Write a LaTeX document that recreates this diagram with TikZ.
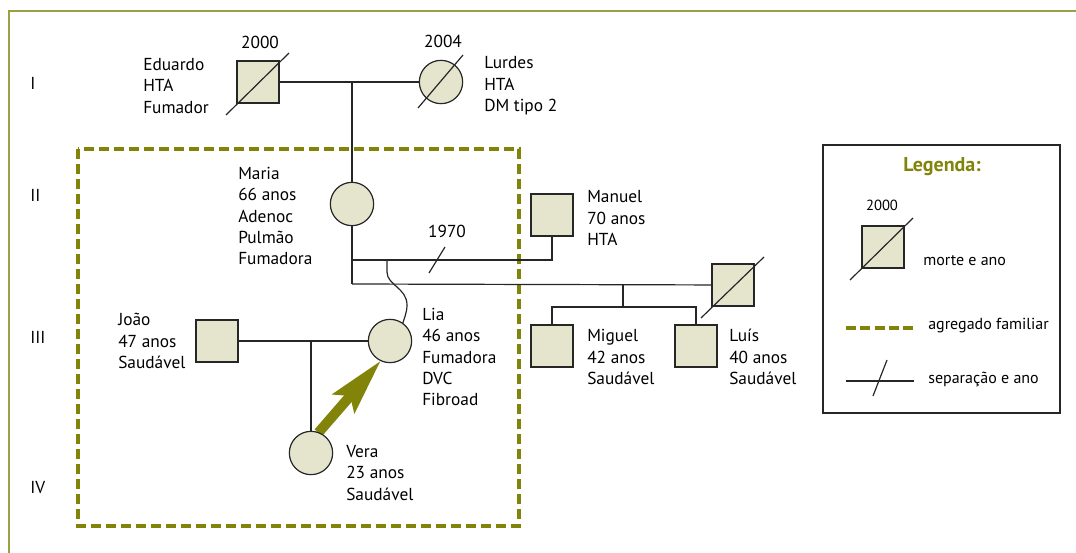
\documentclass[tikz,border=0pt]{standalone}
\usepackage{fontspec}
\setmainfont{PT Sans}
\usetikzlibrary{arrows.meta,backgrounds}
\definecolor{sym}{RGB}{229,229,206}
\definecolor{olv}{RGB}{130,132,10}
\definecolor{frm}{RGB}{155,160,70}
\begin{document}
\begin{tikzpicture}[x=0.75pt,y=-0.75pt,
  person/.style={draw=black!85, line width=0.9pt, fill=sym, inner sep=0pt, outer sep=0pt},
  male/.style={person, rectangle, minimum size=31.5pt},
  female/.style={person, circle, minimum size=32.5pt},
  ln/.style={line width=0.9pt, black!85},
  txt/.style={anchor=west, align=left, inner sep=0pt, font=\fontsize{13}{16.1}\selectfont},
  yr/.style={inner sep=0pt, font=\fontsize{13}{16}\selectfont},
  gen/.style={anchor=west, inner sep=0pt, font=\fontsize{13}{16}\selectfont},
  legtxt/.style={anchor=west, inner sep=0pt, font=\fontsize{12}{14}\selectfont},
  famline/.style={olv, line width=3pt},
  arrowbig/.style={olv, line width=7.5pt, -{Stealth[length=42pt,width=21pt,inset=7pt]}}
]
\useasboundingbox (0,0) rectangle (1076,553);
% outer frame (top and left)
\draw[frm, line width=1.5pt] (8.6,553) -- (8.6,11) -- (1076,11);

% generation labels
\node[gen] (gI) at (30,83) {I};
\node[gen] (gII) at (30,195) {II};
\node[gen] (gIII) at (30,337) {III};
\node[gen] (gIV) at (30,488) {IV};

% family household box
\draw[famline, dash pattern=on 7.5pt off 3.75pt] (78,149) rectangle (519,526);

% persons
\node[male] (edu) at (258,82) {};
\node[female] (lur) at (441,82) {};
\node[female] (mar) at (352,204) {};
\node[male] (man) at (552,215) {};
\node[male] (lfa) at (733,285) {};
\node[male] (mig) at (552,346) {};
\node[male] (lui) at (696,346) {};
\node[male] (joa) at (217,341) {};
\node[female] (lia) at (390,341) {};
\node[female] (ver) at (311,453) {};

% death marks
\draw[ln] ([shift={(-32,33)}]edu.center) -- ([shift={(31,-29)}]edu.center);
\draw[ln] ([shift={(-23,26)}]lur.center) -- ([shift={(22,-27)}]lur.center);
\draw[ln] ([shift={(-32,33)}]lfa.center) -- ([shift={(31,-28)}]lfa.center);

% year labels
\node[yr] (y2000) at (260,42) {2000};
\node[yr] (y2004) at (443,41) {2004};
\node[yr] (y1970) at (447,231) {1970};

% connectors
\coordinate (c1) at (352,82);
\coordinate (c2) at (352,260);
\coordinate (c3) at (352,284);
\coordinate (c4) at (623,284);
\coordinate (c5) at (623,307);
\coordinate (c6) at (552,307);
\coordinate (c7) at (696,307);
\coordinate (c8) at (387,260);
\coordinate (c9) at (311,341);
\coordinate (s1a) at (429,273);
\coordinate (s1b) at (445,247);

\draw[ln] (edu) -- (lur);
\draw[ln] (c1) -- (mar);
\draw[ln] (mar) -- (c3);
\draw[ln] (c2) -| (man);
\draw[ln] (s1a) -- (s1b);
\draw[ln] (c3) -- (lfa);
\draw[ln] (c4) -- (c5);
\draw[ln] (mig) -- (c6) -- (c7) -- (lui);
\draw[ln] (c8) -- ++(0,12) .. controls +(0,13) and +(0,-17) .. (407,305) .. controls +(0,8) and +(1,-4) .. (lia.54);
\draw[ln] (joa) -- (lia);
\draw[ln] (c9) -- (ver);

% emotional arrow
\begin{scope}[on background layer]
\draw[arrowbig] (ver.70) -- (lia.245);
\end{scope}

% texts
\node[txt] (teduardo) at (143,86) {Eduardo\\HTA\\Fumador};
\node[txt] (tlurdes) at (484,86) {Lurdes\\HTA\\DM tipo 2};
\node[txt] (tmaria) at (238,216) {Maria\\66 anos\\Adenoc\\Pulmão\\Fumadora};
\node[txt] (tmanuel) at (587,218) {Manuel\\70 anos\\HTA};
\node[txt] (tmiguel) at (587,357) {Miguel\\42 anos\\Saudável};
\node[txt] (tluis) at (729,357) {Luís\\40 anos\\Saudável};
\node[txt] (tjoao) at (118,341) {João\\47 anos\\Saudável};
\node[txt] (tlia) at (422,357) {Lia\\46 anos\\Fumadora\\DVC\\Fibroad};
\node[txt] (tvera) at (346,473) {Vera\\23 anos\\Saudável};

% legend
\node[draw=black!85, line width=0.9pt, minimum width=177.75pt, minimum height=201pt, inner sep=0pt] (legbox) at (941.5,279) {};
\node[font=\fontsize{15}{18}\selectfont\bfseries, text=olv, inner sep=0pt] (legtitle) at (942,167) {Legenda:};
\node[inner sep=0pt, font=\fontsize{11}{13}\selectfont] (legyr) at (882,205) {2000};
\node[male] (legsq) at (883,247) {};
\draw[ln] ([shift={(-33,33)}]legsq.center) -- ([shift={(30,-29)}]legsq.center);
\node[legtxt] (legdeath) at (923,261) {morte e ano};
\coordinate (l1a) at (846,328);
\coordinate (l1b) at (913,328);
\draw[famline, dash pattern=on 7.5pt off 3.2pt] (l1a) -- (l1b);
\node[legtxt] (legfam) at (928,326) {agregado familiar};
\coordinate (l2a) at (846,381);
\coordinate (l2b) at (914,381);
\coordinate (l3a) at (873,396);
\coordinate (l3b) at (887,360);
\draw[ln] (l2a) -- (l2b);
\draw[ln] (l3a) -- (l3b);
\node[legtxt] (legsep) at (928,379) {separação e ano};
\end{tikzpicture}
\end{document}
